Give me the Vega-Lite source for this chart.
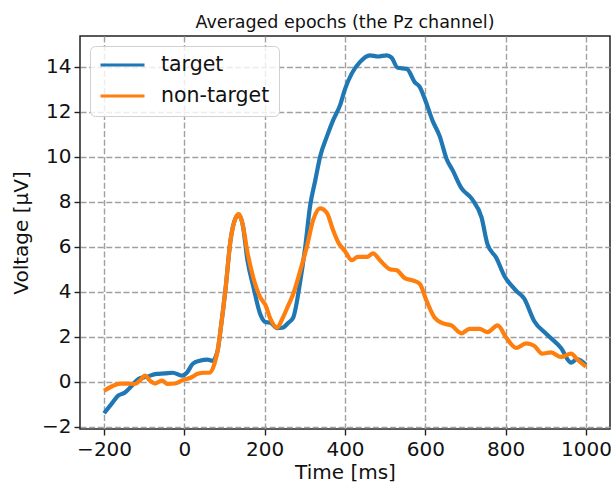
{
  "$schema": "https://vega.github.io/schema/vega-lite/v6.json",
  "width": 530,
  "height": 393,
  "autosize": {"type": "none"},
  "padding": {"left": 80, "top": 36, "right": 1, "bottom": 56},
  "background": "white",
  "title": {"text": "Averaged epochs (the Pz channel)", "font": "DejaVu Sans", "fontSize": 17.5, "fontWeight": "normal", "color": "#111", "offset": 5},
  "config": {
    "view": {"stroke": "#222", "strokeWidth": 1.5},
    "axis": {
      "labelFont": "DejaVu Sans", "titleFont": "DejaVu Sans",
      "labelFontSize": 20, "titleFontSize": 20, "titleFontWeight": "normal",
      "labelColor": "#111", "titleColor": "#111",
      "tickColor": "#222", "tickSize": 6, "tickWidth": 1.4,
      "domain": false,
      "gridColor": "#a0a0a0", "gridDash": [6, 2.6], "gridWidth": 1.4, "gridOpacity": 1
    }
  },
  "data": {"values": [
    {"t": -200, "v": -1.4, "s": "target"},
    {"t": -180, "v": -0.95, "s": "target"},
    {"t": -165, "v": -0.62, "s": "target"},
    {"t": -148, "v": -0.48, "s": "target"},
    {"t": -131, "v": -0.18, "s": "target"},
    {"t": -115, "v": 0.12, "s": "target"},
    {"t": -94, "v": 0.22, "s": "target"},
    {"t": -69, "v": 0.35, "s": "target"},
    {"t": -49, "v": 0.37, "s": "target"},
    {"t": -29, "v": 0.4, "s": "target"},
    {"t": -6, "v": 0.27, "s": "target"},
    {"t": 6, "v": 0.4, "s": "target"},
    {"t": 21, "v": 0.8, "s": "target"},
    {"t": 38, "v": 0.93, "s": "target"},
    {"t": 58, "v": 0.98, "s": "target"},
    {"t": 70, "v": 0.93, "s": "target"},
    {"t": 83, "v": 1.4, "s": "target"},
    {"t": 90, "v": 2.3, "s": "target"},
    {"t": 102, "v": 4.05, "s": "target"},
    {"t": 115, "v": 6.3, "s": "target"},
    {"t": 127, "v": 7.25, "s": "target"},
    {"t": 135, "v": 7.4, "s": "target"},
    {"t": 145, "v": 7.0, "s": "target"},
    {"t": 157, "v": 5.4, "s": "target"},
    {"t": 172, "v": 4.2, "s": "target"},
    {"t": 189, "v": 3.0, "s": "target"},
    {"t": 202, "v": 2.65, "s": "target"},
    {"t": 214, "v": 2.62, "s": "target"},
    {"t": 231, "v": 2.38, "s": "target"},
    {"t": 244, "v": 2.4, "s": "target"},
    {"t": 259, "v": 2.62, "s": "target"},
    {"t": 271, "v": 2.85, "s": "target"},
    {"t": 288, "v": 4.4, "s": "target"},
    {"t": 301, "v": 6.0, "s": "target"},
    {"t": 313, "v": 7.8, "s": "target"},
    {"t": 326, "v": 8.95, "s": "target"},
    {"t": 338, "v": 10.0, "s": "target"},
    {"t": 355, "v": 10.9, "s": "target"},
    {"t": 370, "v": 11.6, "s": "target"},
    {"t": 388, "v": 12.3, "s": "target"},
    {"t": 400, "v": 13.0, "s": "target"},
    {"t": 417, "v": 13.7, "s": "target"},
    {"t": 437, "v": 14.2, "s": "target"},
    {"t": 462, "v": 14.5, "s": "target"},
    {"t": 482, "v": 14.45, "s": "target"},
    {"t": 504, "v": 14.5, "s": "target"},
    {"t": 516, "v": 14.4, "s": "target"},
    {"t": 531, "v": 13.95, "s": "target"},
    {"t": 554, "v": 13.9, "s": "target"},
    {"t": 574, "v": 13.3, "s": "target"},
    {"t": 586, "v": 13.1, "s": "target"},
    {"t": 598, "v": 12.6, "s": "target"},
    {"t": 618, "v": 11.6, "s": "target"},
    {"t": 636, "v": 10.9, "s": "target"},
    {"t": 653, "v": 9.9, "s": "target"},
    {"t": 668, "v": 9.4, "s": "target"},
    {"t": 690, "v": 8.6, "s": "target"},
    {"t": 717, "v": 8.1, "s": "target"},
    {"t": 740, "v": 7.3, "s": "target"},
    {"t": 755, "v": 6.1, "s": "target"},
    {"t": 777, "v": 5.5, "s": "target"},
    {"t": 797, "v": 4.7, "s": "target"},
    {"t": 826, "v": 4.05, "s": "target"},
    {"t": 846, "v": 3.7, "s": "target"},
    {"t": 871, "v": 2.7, "s": "target"},
    {"t": 903, "v": 2.1, "s": "target"},
    {"t": 938, "v": 1.5, "s": "target"},
    {"t": 963, "v": 0.85, "s": "target"},
    {"t": 978, "v": 1.0, "s": "target"},
    {"t": 1000, "v": 0.75, "s": "target"},
    {"t": -200, "v": -0.4, "s": "non-target"},
    {"t": -180, "v": -0.2, "s": "non-target"},
    {"t": -160, "v": -0.08, "s": "non-target"},
    {"t": -140, "v": -0.08, "s": "non-target"},
    {"t": -123, "v": -0.1, "s": "non-target"},
    {"t": -111, "v": 0.05, "s": "non-target"},
    {"t": -98, "v": 0.27, "s": "non-target"},
    {"t": -86, "v": 0.05, "s": "non-target"},
    {"t": -73, "v": -0.08, "s": "non-target"},
    {"t": -56, "v": 0.05, "s": "non-target"},
    {"t": -41, "v": -0.1, "s": "non-target"},
    {"t": -24, "v": -0.08, "s": "non-target"},
    {"t": -4, "v": 0.07, "s": "non-target"},
    {"t": 18, "v": 0.2, "s": "non-target"},
    {"t": 33, "v": 0.35, "s": "non-target"},
    {"t": 50, "v": 0.4, "s": "non-target"},
    {"t": 63, "v": 0.4, "s": "non-target"},
    {"t": 75, "v": 0.8, "s": "non-target"},
    {"t": 83, "v": 1.4, "s": "non-target"},
    {"t": 90, "v": 2.3, "s": "non-target"},
    {"t": 102, "v": 4.05, "s": "non-target"},
    {"t": 115, "v": 6.3, "s": "non-target"},
    {"t": 127, "v": 7.25, "s": "non-target"},
    {"t": 135, "v": 7.45, "s": "non-target"},
    {"t": 145, "v": 7.0, "s": "non-target"},
    {"t": 157, "v": 5.75, "s": "non-target"},
    {"t": 172, "v": 4.6, "s": "non-target"},
    {"t": 189, "v": 3.75, "s": "non-target"},
    {"t": 202, "v": 3.4, "s": "non-target"},
    {"t": 214, "v": 2.8, "s": "non-target"},
    {"t": 231, "v": 2.4, "s": "non-target"},
    {"t": 244, "v": 2.8, "s": "non-target"},
    {"t": 259, "v": 3.4, "s": "non-target"},
    {"t": 271, "v": 3.9, "s": "non-target"},
    {"t": 288, "v": 4.9, "s": "non-target"},
    {"t": 305, "v": 6.0, "s": "non-target"},
    {"t": 321, "v": 7.2, "s": "non-target"},
    {"t": 338, "v": 7.7, "s": "non-target"},
    {"t": 355, "v": 7.5, "s": "non-target"},
    {"t": 370, "v": 6.75, "s": "non-target"},
    {"t": 383, "v": 6.2, "s": "non-target"},
    {"t": 400, "v": 5.8, "s": "non-target"},
    {"t": 417, "v": 5.4, "s": "non-target"},
    {"t": 432, "v": 5.55, "s": "non-target"},
    {"t": 455, "v": 5.55, "s": "non-target"},
    {"t": 470, "v": 5.7, "s": "non-target"},
    {"t": 487, "v": 5.4, "s": "non-target"},
    {"t": 512, "v": 5.0, "s": "non-target"},
    {"t": 529, "v": 4.95, "s": "non-target"},
    {"t": 549, "v": 4.6, "s": "non-target"},
    {"t": 569, "v": 4.5, "s": "non-target"},
    {"t": 586, "v": 4.35, "s": "non-target"},
    {"t": 603, "v": 3.6, "s": "non-target"},
    {"t": 623, "v": 2.85, "s": "non-target"},
    {"t": 643, "v": 2.6, "s": "non-target"},
    {"t": 665, "v": 2.5, "s": "non-target"},
    {"t": 690, "v": 2.15, "s": "non-target"},
    {"t": 710, "v": 2.35, "s": "non-target"},
    {"t": 735, "v": 2.35, "s": "non-target"},
    {"t": 755, "v": 2.2, "s": "non-target"},
    {"t": 780, "v": 2.5, "s": "non-target"},
    {"t": 802, "v": 1.95, "s": "non-target"},
    {"t": 826, "v": 1.5, "s": "non-target"},
    {"t": 851, "v": 1.7, "s": "non-target"},
    {"t": 871, "v": 1.6, "s": "non-target"},
    {"t": 891, "v": 1.25, "s": "non-target"},
    {"t": 913, "v": 1.3, "s": "non-target"},
    {"t": 938, "v": 1.1, "s": "non-target"},
    {"t": 963, "v": 1.25, "s": "non-target"},
    {"t": 978, "v": 1.0, "s": "non-target"},
    {"t": 1000, "v": 0.67, "s": "non-target"}
  ]},
  "mark": {"type": "line", "strokeWidth": 4.2, "interpolate": "monotone", "strokeJoin": "round", "strokeCap": "butt"},
  "encoding": {
    "x": {"field": "t", "type": "quantitative", "title": "Time [ms]",
      "scale": {"domain": [-260, 1060], "nice": false, "zero": false},
      "axis": {"values": [-200, 0, 200, 400, 600, 800, 1000], "format": "d", "titlePadding": 3, "labelPadding": 4}},
    "y": {"field": "v", "type": "quantitative", "title": "Voltage [µV]",
      "scale": {"domain": [-2.1, 15.36], "nice": false, "zero": false},
      "axis": {"values": [-2, 0, 2, 4, 6, 8, 10, 12, 14], "format": "d", "titlePadding": 10, "labelPadding": 3}},
    "color": {"field": "s", "type": "nominal", "title": null,
      "scale": {"domain": ["target", "non-target"], "range": ["#1f77b4", "#ff7f0e"]},
      "legend": {"orient": "top-left", "offset": 10, "symbolType": "stroke", "symbolSize": 1936, "symbolStrokeWidth": 3, "clipHeight": 20,
        "labelFont": "DejaVu Sans", "labelFontSize": 20.5, "labelColor": "#111", "labelOffset": 15,
        "fillColor": "rgba(255,255,255,0.8)", "strokeColor": "#d0d0d0", "padding": 9, "cornerRadius": 5, "rowPadding": 10}}
  }
}
